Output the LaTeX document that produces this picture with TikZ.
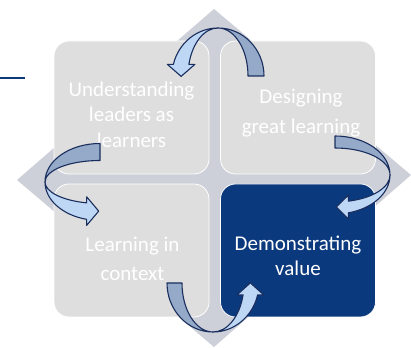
\documentclass[tikz,border=0pt]{standalone}
\usepackage{fontspec}
\setmainfont{Carlito}
\definecolor{crossgray}{RGB}{205,208,216}
\definecolor{boxgray}{RGB}{222,222,222}
\definecolor{deepblue}{RGB}{11,57,125}
\definecolor{ribdark}{RGB}{149,170,201}
\definecolor{riblight}{RGB}{190,215,245}
\definecolor{ribline}{RGB}{26,46,94}
\tikzset{
  quad/.style={shape=rectangle, rounded corners=15pt, minimum width=155pt, minimum height=133pt,
    draw=white, line width=0.8pt, fill=boxgray},
  caption/.style={text=white, align=center, inner sep=0pt},
  darkrib/.style={fill=ribdark, draw=ribline, line width=1.1pt, line join=round},
  lightrib/.style={fill=riblight, draw=ribline, line width=1.1pt, line join=round},
  % #1 = mid radius along the tail side, #2 = ribbon width, #3 = radius towards the twist
  pics/twist/.style n args={3}{code={
    \pgfmathsetmacro\ro{#1+#2/2}
    \pgfmathsetmacro\ri{#1-#2/2}
    \pgfmathsetmacro\hx{cos(166)}
    \pgfmathsetmacro\hy{#3*sin(166)}
    \filldraw[darkrib] (\ro,0) arc[start angle=0, end angle=90, x radius=\ro, y radius=#3]
      arc[start angle=90, end angle=0, x radius=\ri, y radius=#3] -- cycle;
    \filldraw[lightrib] (0,#3) arc[start angle=90, end angle=166, x radius=\ro, y radius=#3]
      -- ++(-6,0) -- ({#1*\hx},{\hy-12}) -- ({\ri*\hx+6},\hy) -- ({\ri*\hx},\hy)
      arc[start angle=166, end angle=90, x radius=\ri, y radius=#3] -- cycle;
  }}
}
\begin{document}
\begin{tikzpicture}[x=1pt, y=1pt]
  \useasboundingbox (0,0) rectangle (411,347);
  % backdrop
  \fill [crossgray] (214,338) -- (17,167) -- (214,0) -- (411,172) -- cycle;
  \draw [deepblue, line width=2pt] (0,269) -- (25,269);

  % four quadrants
  \node (leaders) at (131.5,239.5) [quad] {};
  \node (design) at (298,239.5) [quad] {};
  \node (context) at (131.5,96.5) [quad] {};
  \node (value) at (298,96.5) [quad, fill=deepblue] {};

  \node (leaders text) at ([yshift=-7pt]leaders.center) [caption, font=\fontsize{21}{25.5}\selectfont]
    {Understanding\\leaders as\\learners};
  \node (design text) at ([xshift=3pt, yshift=-6pt]design.center) [caption, font=\fontsize{21}{30}\selectfont]
    {Designing\\great learning};
  \node (context text) at ([xshift=1pt, yshift=-8.5pt]context.center) [caption, font=\fontsize{21}{29}\selectfont]
    {Learning in\\context};
  \node (value text) at ([yshift=-5.5pt]value.center) [caption, font=\fontsize{21}{25}\selectfont]
    {Demonstrating\\value};

  % twisted arrows
  \pic at (218,271) {twist={38}{16}{48}};
  \pic [rotate=90] at (100,165) {twist={30}{17}{55}};
  \pic [rotate=180] at (213,64) {twist={38.5}{15}{49}};
  \pic [rotate=90, yscale=-1] at (335,172) {twist={33}{12}{55}};
\end{tikzpicture}
\end{document}
